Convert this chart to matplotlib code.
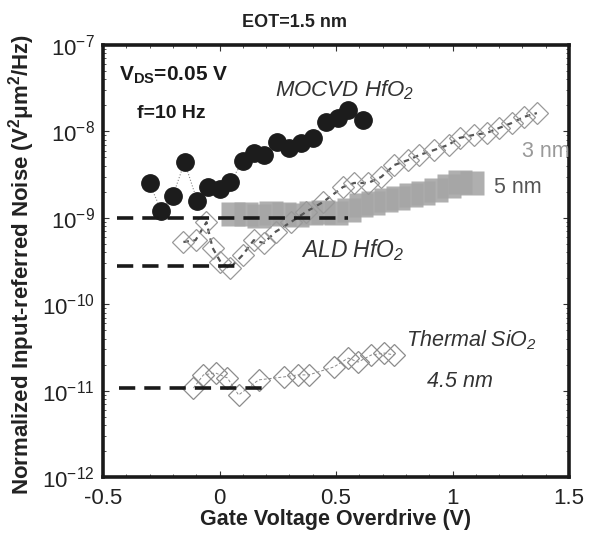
import numpy as np
import matplotlib
matplotlib.use('Agg')
import matplotlib.pyplot as plt
from matplotlib.ticker import LogLocator, MultipleLocator, NullFormatter, FuncFormatter

plt.rcParams['font.family'] = ['Liberation Sans', 'DejaVu Sans']
plt.rcParams['mathtext.default'] = 'regular'

# MOCVD HfO2 (filled circles)
mocvd_v = [-0.30, -0.25, -0.20, -0.15, -0.095, -0.05, 0.0, 0.047, 0.10, 0.147,
           0.19, 0.246, 0.30, 0.35, 0.40, 0.457, 0.51, 0.552, 0.616]
mocvd_n = [2.5e-9, 1.2e-9, 1.8e-9, 4.4e-9, 1.55e-9, 2.3e-9, 2.15e-9, 2.6e-9, 4.5e-9, 5.6e-9,
           5.3e-9, 7.5e-9, 6.4e-9, 7.3e-9, 8.4e-9, 1.29e-8, 1.43e-8, 1.77e-8, 1.36e-8]

# ALD HfO2, 3 nm (open diamonds)
ald3_v = [-0.155, -0.103, -0.056, -0.030, 0.004, 0.043, 0.099, 0.147, 0.190, 0.241,
          0.306, 0.371, 0.444, 0.530, 0.578, 0.638, 0.694, 0.750, 0.810, 0.858,
          0.922, 0.983, 1.030, 1.091, 1.147, 1.198, 1.254, 1.306, 1.362]
ald3_n = [5.25e-10, 5.5e-10, 8.9e-10, 4.5e-10, 3.1e-10, 2.6e-10, 3.7e-10, 5.5e-10, 5.1e-10, 6.9e-10,
          8.9e-10, 1.17e-9, 1.52e-9, 2.27e-9, 2.53e-9, 2.53e-9, 2.97e-9, 4.08e-9, 4.67e-9, 5.33e-9,
          6.1e-9, 7.0e-9, 8.4e-9, 9.1e-9, 9.6e-9, 1.09e-8, 1.25e-8, 1.47e-8, 1.63e-8]

# ALD HfO2, 5 nm (dense gray squares)
ald5_v = [0.056, 0.112, 0.168, 0.220, 0.276, 0.332, 0.392, 0.444, 0.500, 0.556,
          0.608, 0.659, 0.716, 0.767, 0.823, 0.875, 0.931, 0.983, 1.030, 1.082]
ald5_n = [1.11e-9, 1.11e-9, 1.05e-9, 1.14e-9, 1.11e-9, 1.08e-9, 1.14e-9, 1.17e-9, 1.14e-9, 1.23e-9,
          1.41e-9, 1.48e-9, 1.61e-9, 1.70e-9, 1.84e-9, 1.94e-9, 2.10e-9, 2.33e-9, 2.60e-9, 2.53e-9]

# Thermal SiO2, 4.5 nm (open diamonds)
sio2_v = [-0.112, -0.069, -0.017, 0.034, 0.082, 0.168, 0.276, 0.336, 0.384, 0.491,
          0.552, 0.595, 0.651, 0.707, 0.750]
sio2_n = [1.07e-11, 1.52e-11, 1.60e-11, 1.40e-11, 8.9e-12, 1.33e-11, 1.44e-11, 1.52e-11, 1.52e-11, 1.88e-11,
          2.38e-11, 2.14e-11, 2.58e-11, 2.72e-11, 2.58e-11]

# low-field noise levels (dashed guides): level, start, stop
floor_levels = [1.0e-9, 2.75e-10, 1.07e-11]
floor_start = [-0.44, -0.44, -0.43]
floor_stop = [0.55, 0.08, 0.21]

fig = plt.figure(figsize=(5.91, 5.35), dpi=100)
ax = fig.add_axes([0.1743, 0.1084, 0.7885, 0.8075])

# 5 nm band first so everything else sits on top
ax.plot(ald5_v, ald5_n, ls='none', marker='s', ms=17, mfc='#a6a6a6', mec='none', alpha=0.9)

# thermal oxide
ax.plot(sio2_v, sio2_n, ls=(0, (3, 2)), lw=0.7, color='#888888',
        marker='D', ms=11.5, mfc='none', mec='#8c8c8c', mew=0.9)

# ALD 3 nm
ax.plot(ald3_v, ald3_n, ls=(0, (2.5, 2)), lw=1.6, color='#555555',
        marker='D', ms=11.5, mfc='none', mec='#999999', mew=0.9)

# MOCVD
ax.plot(mocvd_v, mocvd_n, ls=':', lw=0.8, color='#888888',
        marker='o', ms=12.5, mfc='#1c1c1c', mec='#1c1c1c')

for lvl, x0, x1 in zip(floor_levels, floor_start, floor_stop):
    ax.plot([x0, x1], [lvl, lvl], ls=(0, (4.5, 2.5)), lw=2.6, color='#1a1a1a')

ax.set_xlim(-0.5, 1.5)
ax.set_yscale('log')
ax.set_ylim(1e-12, 1e-7)
ax.xaxis.set_major_locator(MultipleLocator(0.5))
ax.xaxis.set_minor_locator(MultipleLocator(0.1))
ax.xaxis.set_major_formatter(FuncFormatter(lambda v, p: '%g' % v))
ax.xaxis.set_minor_formatter(NullFormatter())
ax.yaxis.set_major_locator(LogLocator(base=10, numticks=10))
ax.yaxis.set_minor_locator(LogLocator(base=10, subs=np.arange(2, 10), numticks=20))
ax.yaxis.set_minor_formatter(NullFormatter())

ax.tick_params(which='both', direction='in', top=True, right=True, colors='#333333',
               labelcolor='#222222', labelsize=16)
ax.tick_params(axis='x', which='major', pad=8)
ax.tick_params(axis='y', which='major', pad=6)
ax.tick_params(which='major', length=4, width=0.8)
ax.tick_params(which='minor', length=2.5, width=0.6)
for s in ax.spines.values():
    s.set_linewidth(2.6)
    s.set_color('#1a1a1a')

ax.set_xlabel('Gate Voltage Overdrive (V)', fontsize=15.5, fontweight='bold',
              color='#222222', labelpad=0)
fig.text(0.037, 0.505, 'Normalized Input-referred Noise (V$^2$$\\mu$m$^2$/Hz)',
         rotation=90, ha='center', va='center', fontsize=16, fontweight='bold',
         color='#222222')
fig.text(0.499, 0.958, 'EOT=1.5 nm', ha='center', va='center', fontsize=13,
         fontweight='bold', color='#222222')

ax.text(-0.43, 4.5e-8, 'V$_{DS}$=0.05 V', fontsize=15, fontweight='bold',
        va='center', color='#1a1a1a')
ax.text(-0.355, 1.63e-8, 'f=10 Hz', fontsize=14, fontweight='bold',
        va='center', color='#1a1a1a')
ax.text(0.24, 3.0e-8, 'MOCVD HfO$_2$', fontsize=16, style='italic',
        va='center', color='#333333')
ax.text(1.297, 5.8e-9, '3 nm', fontsize=15.5, va='center', color='#999999')
ax.text(1.18, 2.27e-9, '5 nm', fontsize=15.5, va='center', color='#555555')
ax.text(0.35, 4.2e-10, 'ALD HfO$_2$', fontsize=16.5, style='italic',
        va='center', color='#333333')
ax.text(0.80, 3.85e-11, 'Thermal SiO$_2$', fontsize=15.5, style='italic',
        va='center', color='#333333')
ax.text(0.89, 1.26e-11, '4.5 nm', fontsize=15.5, style='italic',
        va='center', color='#333333')

fig.savefig('out.png', dpi=100)
